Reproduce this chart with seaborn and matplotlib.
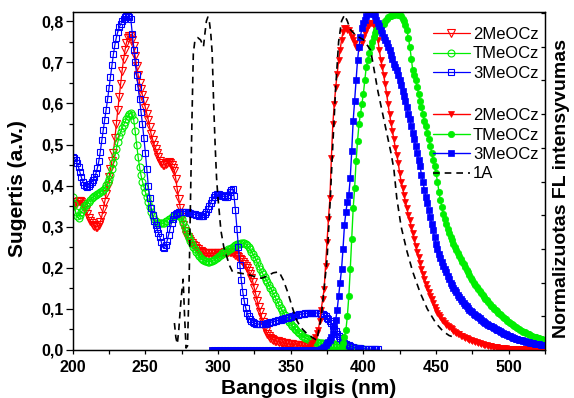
import numpy as np
import matplotlib
matplotlib.use("Agg")
import matplotlib.pyplot as plt
from matplotlib.ticker import MultipleLocator, FuncFormatter
import seaborn as sns

# ---- absorption spectra (left axis, a.v.), 1 nm step ----
abs_wl_2meocz = np.arange(200, 367, 1)
abs_2meocz = [
    0.35, 0.352, 0.355, 0.36, 0.362, 0.362, 0.36, 0.356, 0.35, 0.34,
    0.33, 0.322, 0.315, 0.309, 0.305, 0.302, 0.30, 0.30, 0.303, 0.312,
    0.325, 0.342, 0.36, 0.38, 0.40, 0.42, 0.44, 0.46, 0.48, 0.515,
    0.55, 0.583, 0.615, 0.648, 0.68, 0.707, 0.73, 0.748, 0.76, 0.765,
    0.765, 0.755, 0.74, 0.715, 0.69, 0.67, 0.65, 0.635, 0.62, 0.605,
    0.59, 0.575, 0.56, 0.542, 0.525, 0.512, 0.50, 0.49, 0.48, 0.47,
    0.46, 0.454, 0.45, 0.451, 0.453, 0.456, 0.457, 0.455, 0.45, 0.443,
    0.435, 0.415, 0.39, 0.368, 0.345, 0.323, 0.305, 0.29, 0.28, 0.274,
    0.27, 0.265, 0.26, 0.256, 0.252, 0.248, 0.245, 0.242, 0.24, 0.238,
    0.236, 0.235, 0.235, 0.235, 0.235, 0.235, 0.235, 0.235, 0.235, 0.236,
    0.236, 0.236, 0.236, 0.237, 0.237, 0.238, 0.238, 0.239, 0.239, 0.238,
    0.237, 0.235, 0.232, 0.229, 0.226, 0.222, 0.218, 0.214, 0.21, 0.205,
    0.20, 0.193, 0.185, 0.176, 0.165, 0.15, 0.135, 0.12, 0.105, 0.092,
    0.08, 0.067, 0.055, 0.047, 0.04, 0.035, 0.03, 0.027, 0.025, 0.023,
    0.022, 0.021, 0.02, 0.019, 0.018, 0.017, 0.016, 0.016, 0.015, 0.015,
    0.014, 0.014, 0.013, 0.013, 0.012, 0.012, 0.011, 0.011, 0.01, 0.01,
    0.009, 0.009, 0.008, 0.008, 0.007, 0.007, 0.006,
]

abs_wl_tmeocz = np.arange(200, 401, 1)
abs_tmeocz = [
    0.373, 0.355, 0.335, 0.325, 0.322, 0.328, 0.335, 0.343, 0.35, 0.354,
    0.357, 0.361, 0.365, 0.369, 0.373, 0.376, 0.378, 0.38, 0.383, 0.385,
    0.387, 0.39, 0.395, 0.401, 0.408, 0.416, 0.425, 0.44, 0.455, 0.472,
    0.49, 0.505, 0.52, 0.53, 0.54, 0.548, 0.555, 0.563, 0.57, 0.575,
    0.577, 0.572, 0.56, 0.532, 0.50, 0.47, 0.445, 0.425, 0.41, 0.397,
    0.385, 0.372, 0.36, 0.347, 0.335, 0.325, 0.318, 0.313, 0.31, 0.309,
    0.308, 0.308, 0.308, 0.31, 0.313, 0.315, 0.318, 0.32, 0.323, 0.325,
    0.327, 0.328, 0.328, 0.327, 0.325, 0.318, 0.31, 0.30, 0.29, 0.281,
    0.272, 0.265, 0.258, 0.251, 0.245, 0.239, 0.233, 0.228, 0.224, 0.221,
    0.219, 0.217, 0.216, 0.215, 0.215, 0.216, 0.217, 0.219, 0.221, 0.223,
    0.226, 0.229, 0.232, 0.235, 0.237, 0.24, 0.242, 0.245, 0.247, 0.249,
    0.251, 0.253, 0.255, 0.257, 0.258, 0.259, 0.26, 0.26, 0.26, 0.258,
    0.255, 0.25, 0.245, 0.239, 0.233, 0.227, 0.221, 0.213, 0.205, 0.197,
    0.19, 0.184, 0.178, 0.171, 0.165, 0.158, 0.152, 0.145, 0.138, 0.131,
    0.124, 0.117, 0.11, 0.103, 0.097, 0.091, 0.085, 0.079, 0.074, 0.069,
    0.064, 0.059, 0.055, 0.051, 0.048, 0.044, 0.041, 0.038, 0.035, 0.032,
    0.03, 0.028, 0.026, 0.024, 0.023, 0.022, 0.021, 0.02, 0.019, 0.018,
    0.017, 0.016, 0.016, 0.015, 0.015, 0.014, 0.014, 0.014, 0.014, 0.014,
    0.014, 0.014, 0.013, 0.013, 0.012, 0.011, 0.01, 0.009, 0.008, 0.007,
    0.006, 0.006, 0.005, 0.005, 0.004, 0.004, 0.003, 0.003, 0.003, 0.002,
    0.002,
]

abs_wl_3meocz = np.arange(200, 411, 1)
abs_3meocz = [
    0.47, 0.467, 0.463, 0.455, 0.445, 0.432, 0.42, 0.41, 0.402, 0.398,
    0.397, 0.399, 0.403, 0.408, 0.414, 0.421, 0.43, 0.443, 0.46, 0.483,
    0.51, 0.535, 0.56, 0.585, 0.61, 0.637, 0.665, 0.693, 0.72, 0.742,
    0.76, 0.774, 0.785, 0.793, 0.80, 0.806, 0.81, 0.812, 0.812, 0.81,
    0.805, 0.77, 0.73, 0.70, 0.67, 0.64, 0.61, 0.58, 0.55, 0.515,
    0.48, 0.44, 0.40, 0.37, 0.345, 0.328, 0.315, 0.305, 0.295, 0.285,
    0.275, 0.262, 0.25, 0.248, 0.255, 0.266, 0.28, 0.295, 0.31, 0.32,
    0.328, 0.332, 0.334, 0.335, 0.336, 0.337, 0.337, 0.337, 0.336, 0.335,
    0.334, 0.333, 0.332, 0.331, 0.33, 0.329, 0.328, 0.327, 0.326, 0.326,
    0.327, 0.33, 0.335, 0.342, 0.35, 0.358, 0.365, 0.372, 0.378, 0.38,
    0.38, 0.379, 0.377, 0.375, 0.374, 0.373, 0.373, 0.378, 0.385, 0.39,
    0.393, 0.375, 0.34, 0.295, 0.25, 0.208, 0.17, 0.142, 0.12, 0.103,
    0.09, 0.082, 0.075, 0.07, 0.067, 0.065, 0.064, 0.063, 0.063, 0.063,
    0.063, 0.063, 0.064, 0.064, 0.065, 0.066, 0.067, 0.068, 0.069, 0.07,
    0.071, 0.072, 0.073, 0.074, 0.075, 0.076, 0.077, 0.078, 0.079, 0.08,
    0.081, 0.082, 0.083, 0.084, 0.085, 0.086, 0.087, 0.087, 0.088, 0.088,
    0.089, 0.089, 0.09, 0.09, 0.09, 0.09, 0.09, 0.09, 0.09, 0.09,
    0.089, 0.088, 0.087, 0.085, 0.082, 0.079, 0.075, 0.07, 0.065, 0.059,
    0.052, 0.046, 0.04, 0.035, 0.03, 0.025, 0.021, 0.018, 0.015, 0.013,
    0.011, 0.009, 0.008, 0.007, 0.006, 0.005, 0.005, 0.004, 0.004, 0.003,
    0.003, 0.003, 0.003, 0.002, 0.002, 0.002, 0.002, 0.002, 0.002, 0.002,
    0.002,
]

# ---- normalised fluorescence spectra (right axis), 1 nm step ----
fl_wl = np.arange(296, 526, 1)
fl_2meocz = [
    0, 0, 0, 0, 0, 0, 0, 0, 0, 0,
    0, 0, 0, 0, 0, 0, 0, 0, 0, 0,
    0, 0, 0, 0, 0, 0, 0, 0, 0, 0,
    0, 0, 0, 0, 0, 0, 0, 0, 0, 0,
    0, 0, 0, 0, 0, 0, 0, 0, 0, 0,
    0, 0, 0, 0, 0, 0, 0, 0, 0, 0,
    0, 0, 0, 0, 0, 0.003, 0.005, 0.01, 0.015, 0.02,
    0.03, 0.04, 0.05, 0.06, 0.085, 0.12, 0.15, 0.18, 0.25, 0.32,
    0.39, 0.45, 0.57, 0.67, 0.73, 0.78, 0.82, 0.86, 0.89, 0.92,
    0.945, 0.955, 0.955, 0.95, 0.95, 0.94, 0.93, 0.92, 0.91, 0.90,
    0.895, 0.895, 0.90, 0.91, 0.925, 0.94, 0.95, 0.96, 0.965, 0.97,
    0.97, 0.965, 0.955, 0.94, 0.92, 0.89, 0.86, 0.84, 0.815, 0.79,
    0.76, 0.73, 0.70, 0.675, 0.65, 0.625, 0.60, 0.58, 0.555, 0.525,
    0.50, 0.48, 0.46, 0.44, 0.42, 0.40, 0.385, 0.365, 0.346, 0.33,
    0.31, 0.29, 0.275, 0.257, 0.24, 0.225, 0.21, 0.195, 0.185, 0.172,
    0.16, 0.15, 0.14, 0.128, 0.119, 0.11, 0.103, 0.097, 0.09, 0.085,
    0.08, 0.075, 0.072, 0.069, 0.065, 0.061, 0.057, 0.054, 0.051, 0.048,
    0.046, 0.043, 0.041, 0.04, 0.037, 0.035, 0.033, 0.031, 0.029, 0.027,
    0.026, 0.024, 0.023, 0.021, 0.02, 0.019, 0.017, 0.016, 0.015, 0.014,
    0.013, 0.012, 0.011, 0.01, 0.009, 0.008, 0.008, 0.007, 0.006, 0.006,
    0.005, 0.005, 0.005, 0.004, 0.004, 0.004, 0.004, 0.004, 0.003, 0.003,
    0.003, 0.003, 0.003, 0.003, 0.003, 0.003, 0.002, 0.002, 0.002, 0.002,
    0.002, 0.002, 0.002, 0.002, 0.002, 0.002, 0.002, 0.002, 0.002, 0.002,
]
fl_tmeocz = [
    0, 0, 0, 0, 0, 0, 0, 0, 0, 0,
    0, 0, 0, 0, 0, 0, 0, 0, 0, 0,
    0, 0, 0, 0, 0, 0, 0, 0, 0, 0,
    0, 0, 0, 0, 0, 0, 0, 0, 0, 0,
    0, 0, 0, 0, 0, 0, 0, 0, 0, 0,
    0, 0, 0, 0, 0, 0, 0, 0, 0, 0,
    0, 0, 0, 0, 0, 0, 0, 0, 0, 0,
    0, 0, 0, 0, 0, 0, 0, 0, 0, 0,
    0, 0, 0, 0, 0, 0, 0, 0, 0.003, 0.01,
    0.02, 0.04, 0.06, 0.10, 0.16, 0.24, 0.33, 0.42, 0.48, 0.56,
    0.62, 0.67, 0.70, 0.73, 0.76, 0.80, 0.84, 0.86, 0.88, 0.90,
    0.915, 0.93, 0.94, 0.95, 0.955, 0.96, 0.962, 0.964, 0.968, 0.975,
    0.982, 0.988, 0.99, 0.992, 0.994, 0.995, 0.996, 0.996, 0.995, 0.994,
    0.99, 0.983, 0.975, 0.965, 0.95, 0.925, 0.90, 0.865, 0.83, 0.815,
    0.80, 0.78, 0.76, 0.74, 0.72, 0.70, 0.68, 0.665, 0.645, 0.625,
    0.605, 0.585, 0.565, 0.545, 0.525, 0.50, 0.47, 0.445, 0.425, 0.405,
    0.39, 0.375, 0.36, 0.348, 0.335, 0.325, 0.315, 0.305, 0.296, 0.287,
    0.278, 0.27, 0.262, 0.254, 0.246, 0.238, 0.23, 0.222, 0.215, 0.208,
    0.20, 0.194, 0.188, 0.182, 0.176, 0.17, 0.164, 0.158, 0.152, 0.147,
    0.142, 0.137, 0.132, 0.127, 0.123, 0.119, 0.115, 0.111, 0.107, 0.103,
    0.099, 0.095, 0.091, 0.087, 0.084, 0.08, 0.077, 0.074, 0.071, 0.068,
    0.065, 0.062, 0.059, 0.056, 0.054, 0.052, 0.05, 0.048, 0.046, 0.044,
    0.042, 0.04, 0.039, 0.038, 0.036, 0.035, 0.034, 0.033, 0.031, 0.03,
]
fl_3meocz = [
    0, 0, 0, 0, 0, 0, 0, 0, 0, 0,
    0, 0, 0, 0, 0, 0, 0, 0, 0, 0,
    0, 0, 0, 0, 0, 0, 0, 0, 0, 0,
    0, 0, 0, 0, 0, 0, 0, 0, 0, 0,
    0, 0, 0, 0, 0, 0, 0, 0, 0, 0,
    0, 0, 0, 0, 0, 0, 0, 0, 0, 0,
    0, 0, 0, 0, 0, 0, 0, 0, 0, 0,
    0, 0, 0, 0, 0, 0.003, 0.006, 0.01, 0.015, 0.02,
    0.025, 0.03, 0.04, 0.05, 0.07, 0.09, 0.12, 0.16, 0.20, 0.24,
    0.30, 0.37, 0.41, 0.44, 0.46, 0.51, 0.59, 0.68, 0.74, 0.80,
    0.86, 0.90, 0.93, 0.955, 0.97, 0.98, 0.99, 0.997, 1.0, 1.0,
    1.0, 0.997, 0.99, 0.98, 0.97, 0.96, 0.95, 0.94, 0.93, 0.92,
    0.91, 0.90, 0.89, 0.875, 0.865, 0.85, 0.84, 0.83, 0.815, 0.80,
    0.785, 0.77, 0.755, 0.74, 0.72, 0.70, 0.685, 0.665, 0.645, 0.625,
    0.605, 0.585, 0.565, 0.545, 0.52, 0.50, 0.475, 0.455, 0.435, 0.415,
    0.395, 0.375, 0.355, 0.335, 0.315, 0.30, 0.285, 0.272, 0.26, 0.25,
    0.24, 0.23, 0.22, 0.21, 0.20, 0.192, 0.185, 0.178, 0.171, 0.164,
    0.158, 0.152, 0.146, 0.14, 0.135, 0.13, 0.125, 0.12, 0.116, 0.112,
    0.108, 0.104, 0.10, 0.097, 0.094, 0.09, 0.087, 0.084, 0.081, 0.078,
    0.075, 0.072, 0.07, 0.067, 0.065, 0.062, 0.06, 0.058, 0.055, 0.053,
    0.05, 0.048, 0.046, 0.044, 0.042, 0.041, 0.039, 0.037, 0.036, 0.034,
    0.032, 0.031, 0.03, 0.029, 0.027, 0.026, 0.025, 0.024, 0.023, 0.022,
    0.021, 0.02, 0.019, 0.018, 0.018, 0.017, 0.016, 0.016, 0.015, 0.015,
]

# ---- reference compound 1A (absorption + emission, normalised) ----
wl_1a = [
    270, 271, 272, 273, 274, 275, 276, 277, 278, 279, 280, 281, 282, 283, 284,
    286, 288, 290, 291, 292, 293, 294, 295, 296, 297, 298, 299, 300,
    302, 304, 306, 308, 310, 314, 318, 322, 326, 330, 334, 338, 342,
    345, 348, 351, 354, 357, 361, 365, 368,
    371, 373, 375, 377, 379, 381, 383, 385, 387, 389, 391,
    395, 400, 405, 408, 410, 413, 416, 419, 421, 423, 426, 430, 434,
    439, 444, 450, 455, 459, 463,
]
int_1a = [
    0.08, 0.037, 0.018, 0.06, 0.12, 0.17, 0.21, 0.10, 0.006, 0.012, 0.18, 0.43, 0.67, 0.88, 0.915,
    0.927, 0.92, 0.90, 0.94, 0.976, 0.988, 0.976, 0.94, 0.88, 0.73, 0.61, 0.51, 0.45,
    0.354, 0.305, 0.277, 0.25, 0.232, 0.229, 0.226, 0.222, 0.217, 0.213, 0.22, 0.229, 0.232,
    0.207, 0.171, 0.128, 0.089, 0.067, 0.049, 0.037, 0.029,
    0.098, 0.183, 0.268, 0.427, 0.61, 0.78, 0.915, 0.976, 0.994, 0.976, 0.951,
    0.933, 0.921, 0.89, 0.817, 0.768, 0.707, 0.646, 0.585, 0.537, 0.451, 0.366, 0.293, 0.232,
    0.171, 0.122, 0.079, 0.055, 0.043, 0.037,
]

names = ["2MeOCz", "TMeOCz", "3MeOCz"]
colors = ["#ff0000", "#00ee00", "#0000ff"]

sns.set_theme(style="ticks", rc={
    "axes.edgecolor": "black", "axes.labelcolor": "black", "text.color": "black",
    "xtick.color": "black", "ytick.color": "black", "axes.linewidth": 0.9,
})
plt.rcParams["font.family"] = ["Liberation Sans", "DejaVu Sans"]
plt.rcParams["font.weight"] = "bold"
plt.rcParams["axes.labelweight"] = "bold"

fig, ax = plt.subplots(figsize=(5.74, 3.98), dpi=100)
fig.subplots_adjust(left=72.7 / 574, right=545 / 574, bottom=48 / 398, top=386 / 398)
ax2 = ax.twinx()

# absorption: open markers
abs_sets = [(abs_wl_2meocz, abs_2meocz, "v", 5.5),
            (abs_wl_tmeocz, abs_tmeocz, "o", 5.0),
            (abs_wl_3meocz, abs_3meocz, "s", 4.6)]
for name, color, (wl, vals, mk, ms) in zip(names, colors, abs_sets):
    sns.lineplot(x=wl, y=vals, ax=ax, color=color, marker=mk, markersize=ms,
                 markerfacecolor="none", markeredgecolor=color, markeredgewidth=0.8,
                 linewidth=0.9, label=name, legend=False)

# fluorescence: filled markers
fl_sets = [(fl_2meocz, "v", 5.0), (fl_tmeocz, "o", 4.6), (fl_3meocz, "s", 4.0)]
for name, color, (vals, mk, ms) in zip(names, colors, fl_sets):
    sns.lineplot(x=fl_wl, y=vals, ax=ax2, color=color, marker=mk, markersize=ms,
                 markerfacecolor=color, markeredgecolor=color, markeredgewidth=0.5,
                 linewidth=1.0, label=name, legend=False)

sns.lineplot(x=wl_1a, y=int_1a, ax=ax2, color="black", linewidth=1.2,
             linestyle="--", label="1A", legend=False)
ax2.lines[-1].set_dashes([4, 3])

# axes ranges and ticks
ax.set_xlim(200, 525)
ax.set_ylim(0, 0.8226)
ax2.set_ylim(0, 1.003)
ax.xaxis.set_major_locator(MultipleLocator(50))
ax.xaxis.set_minor_locator(MultipleLocator(25))
ax.yaxis.set_major_locator(MultipleLocator(0.1))
ax.yaxis.set_minor_locator(MultipleLocator(0.05))
ax2.yaxis.set_major_locator(MultipleLocator(0.1))
ax.yaxis.set_major_formatter(FuncFormatter(lambda v, p: f"{v:.1f}".replace(".", ",")))
ax.xaxis.set_major_formatter(FuncFormatter(lambda v, p: f"{v:.0f}"))

ax.tick_params(axis="y", which="major", direction="out", length=5, width=0.9,
               labelsize=11.5, pad=1.5, right=False)
ax.tick_params(axis="y", which="minor", direction="out", length=3, width=0.9, right=False)
ax.tick_params(axis="x", which="both", direction="out", length=3, width=0.9,
               labelsize=11.5, pad=4, top=False)
ax2.tick_params(axis="y", which="major", direction="in", length=3, width=0.9,
                labelright=False)
ax2.tick_params(axis="x", which="both", top=False)

ax.set_xlabel("Bangos ilgis (nm)", fontsize=15, labelpad=3)
ax.set_ylabel("Sugertis (a.v.)", fontsize=15)
ax.yaxis.set_label_coords(-0.097, 0.478)
ax2.set_ylabel("Normalizuotas FL intensyvumas", fontsize=14, rotation=90)
ax2.yaxis.set_label_coords(1.0165, 0.478)

# two legend blocks: absorption and emission
h1, l1 = ax.get_legend_handles_labels()
h2, l2 = ax2.get_legend_handles_labels()
leg_kw = dict(loc="upper left", bbox_transform=fig.transFigure, frameon=False,
              prop={"size": 12, "weight": "normal"}, handlelength=2.2,
              handletextpad=0.2, labelspacing=0.27, borderpad=0, borderaxespad=0)
leg1 = ax2.legend(h1, l1, bbox_to_anchor=(433 / 574, 1 - 27 / 398), **leg_kw)
ax2.add_artist(leg1)
ax2.legend(h2, l2, bbox_to_anchor=(433 / 574, 1 - 108 / 398), **leg_kw)

fig.savefig("out.png", dpi=100)
